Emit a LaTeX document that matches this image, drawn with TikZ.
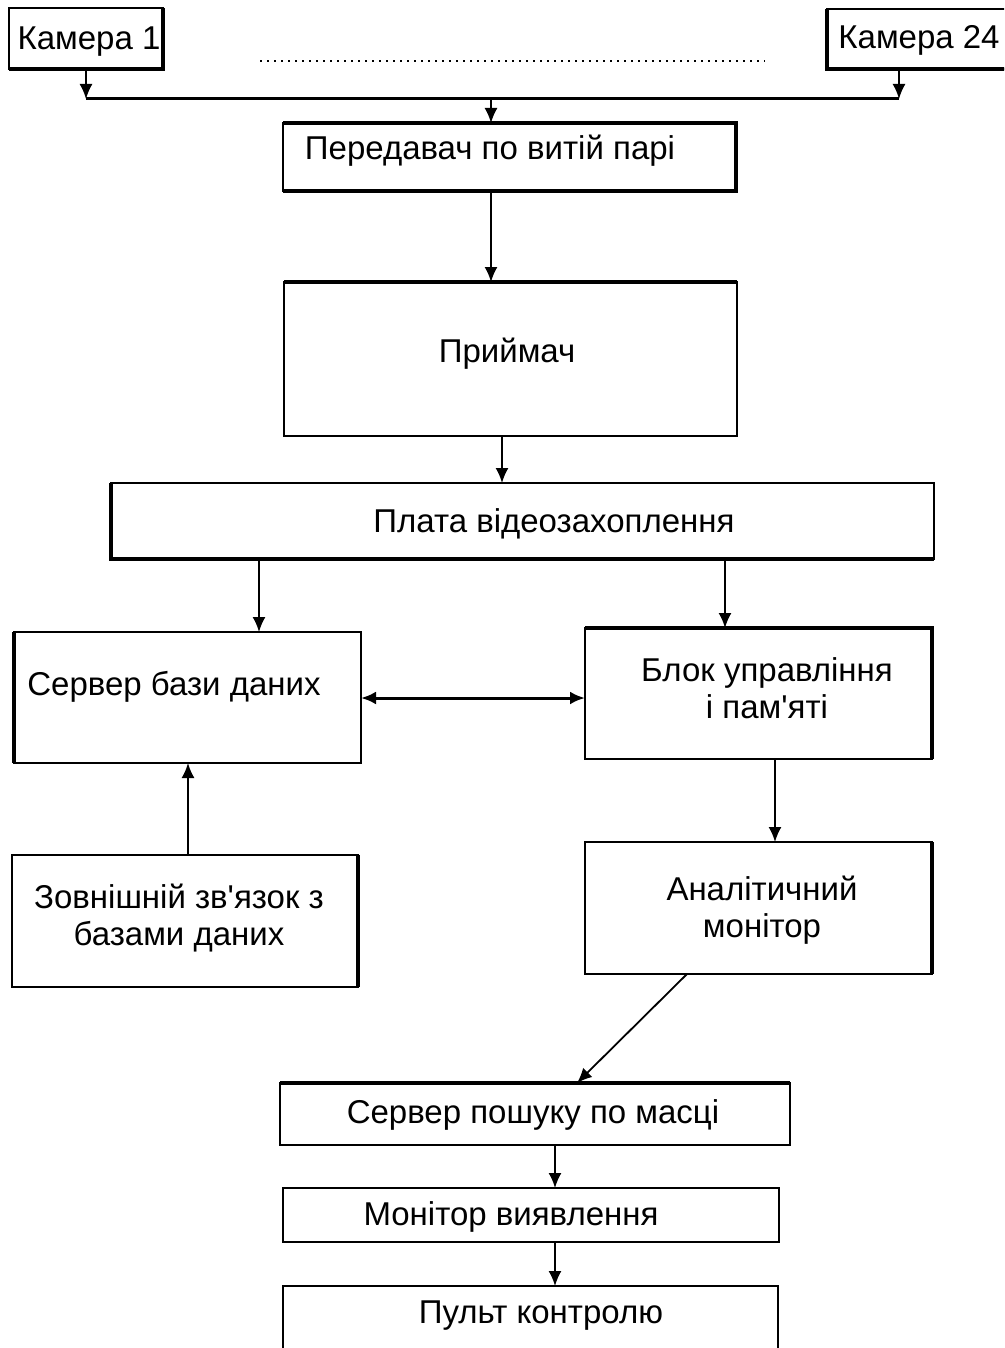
\documentclass[tikz,border=0pt]{standalone}
\usepackage{fontspec}
\setmainfont{Liberation Sans}
\usetikzlibrary{arrows.meta}
\begin{document}
\begin{tikzpicture}[x=1pt,y=-1pt,
  box/.style={draw, line width=1.8pt, inner sep=0pt, outer sep=0pt},
  thk/.style={line width=3.8pt, line cap=butt, line join=miter},
  lbl/.style={font=\fontsize{33}{37}\selectfont, align=center, inner sep=0pt, anchor=base},
  arr/.style={line width=1.8pt, -{Latex[length=15pt,width=13pt]}},
  darr/.style={line width=3pt, {Latex[length=15pt,width=13pt]}-{Latex[length=15pt,width=13pt]}},
  busline/.style={line width=3pt},
  dotline/.style={line width=1.6pt, dash pattern=on 1.6pt off 5.4pt}]
\useasboundingbox (0,0) rectangle (1004,1348);
\clip (0,0) rectangle (1004,1348);
\fill[white] (0,0) rectangle (1004,1348);

% boxes
\node[box, minimum width=154pt, minimum height=61pt] (cam1) at (86,38.5) {};
\node[box, minimum width=185pt, minimum height=60pt] (cam24) at (919.5,39) {};
\node[box, minimum width=453pt, minimum height=68pt] (tx) at (509.5,157) {};
\node[box, minimum width=453pt, minimum height=154pt] (rx) at (510.5,359) {};
\node[box, minimum width=823pt, minimum height=76pt] (card) at (522.5,521) {};
\node[box, minimum width=347pt, minimum height=131pt] (db) at (187.5,697.5) {};
\node[box, minimum width=347pt, minimum height=131pt] (ctl) at (758.5,693.5) {};
\node[box, minimum width=346pt, minimum height=132pt] (ext) at (185,921) {};
\node[box, minimum width=347pt, minimum height=132pt] (ana) at (758.5,908) {};
\node[box, minimum width=510pt, minimum height=62pt] (srch) at (535,1114) {};
\node[box, minimum width=496pt, minimum height=54pt] (mon) at (531,1215) {};
\node[box, minimum width=495pt, minimum height=80pt] (pult) at (530.5,1326) {};

% heavier sides
\draw[thk] (cam1.north east) -- (cam1.south east) -- (cam1.south west);
\draw[thk] (cam24.north west) -- (cam24.south west) -- (cam24.south east);
\draw[thk] (tx.north west) -- (tx.north east) -- (tx.south east) -- (tx.south west);
\draw[thk] (rx.north west) -- (rx.north east);
\draw[thk] (card.north west) -- (card.south west) -- (card.south east);
\draw[thk] (db.north west) -- (db.south west);
\draw[thk] (ctl.north west) -- (ctl.north east) -- (ctl.south east);
\draw[thk] (ext.north east) -- (ext.south east);
\draw[thk] (ana.north east) -- (ana.south east);
\draw[thk] (srch.north west) -- (srch.north east);

% texts
\node[lbl] (tcam1) at (89,50) {Камера 1};
\node[lbl] (tcam24) at (919,49) {Камера 24};
\node[lbl] (ttx) at (490,160) {Передавач по витій парі};
\node[lbl] (trx) at (507,362) {Приймач};
\node[lbl] (tcard) at (554,532) {Плата відеозахоплення};
\node[lbl] (tdb) at (174,695) {Сервер бази даних};
\node[lbl] (tctl) at (767,718) {Блок управління\\і пам\textquotesingle яті};
\node[lbl] (text) at (179,945) {Зовнішній зв\textquotesingle язок з\\базами даних};
\node[lbl] (tana) at (762,937) {Аналітичний\\монітор};
\node[lbl] (tsrch) at (533,1123) {Сервер пошуку по масці};
\node[lbl] (tmon) at (511,1225) {Монітор виявлення};
\node[lbl] (tpult) at (541,1323) {Пульт контролю};

% dotted line between cameras
\coordinate (d1) at (260,61);
\coordinate (d2) at (765,61);
\draw[dotline] (d1) -- (d2);

% bus
\coordinate (busL) at (86,99);
\coordinate (busR) at (899,99);
\coordinate (bj) at (491,99);
\draw[busline] (busL) -- (busR);
\draw[arr] (cam1.south -| busL) -- (busL);
\draw[arr] (cam24.south -| busR) -- (busR);
\draw[arr] (bj) -- (bj |- tx.north);

% connectors
\draw[arr] (tx.south -| bj) -- (rx.north -| bj);
\draw[arr] (rx.south -| 502,0) -- (card.north -| 502,0);
\draw[arr] (card.south -| 259,0) -- (db.north -| 259,0);
\draw[arr] (card.south -| 725,0) -- (ctl.north -| 725,0);
\draw[darr] (db.east |- 0,698) -- (ctl.west |- 0,698);
\draw[arr] (ext.north -| 188,0) -- (db.south -| 188,0);
\draw[arr] (ctl.south -| 775,0) -- (ana.north -| 775,0);
\draw[arr] (ana.south -| 687,0) -- (srch.north -| 577,0);
\draw[arr] (srch.south -| 555,0) -- (mon.north -| 555,0);
\draw[arr] (mon.south -| 555,0) -- (pult.north -| 555,0);
\end{tikzpicture}
\end{document}
